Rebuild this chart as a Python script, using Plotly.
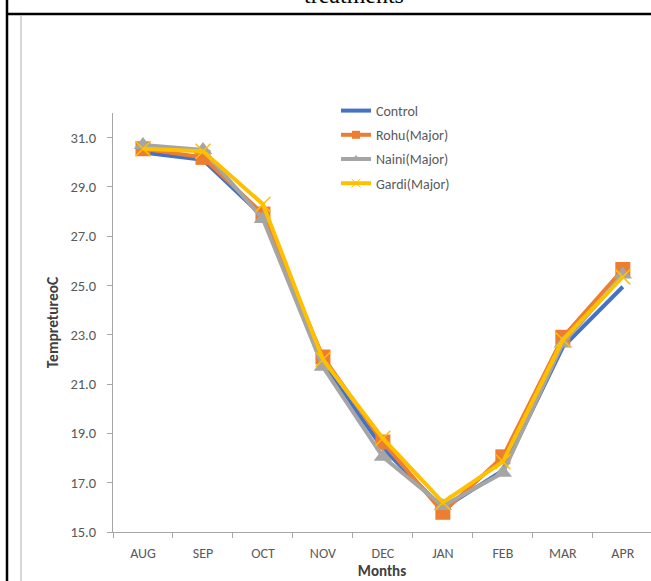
import plotly.graph_objects as go

# Monthly water temperature (°C) by treatment
months = ["AUG", "SEP", "OCT", "NOV", "DEC", "JAN", "FEB", "MAR", "APR"]
control = [30.4, 30.1, 27.8, 21.8, 18.4, 15.95, 17.5, 22.5, 24.95]
rohu = [30.55, 30.2, 27.9, 22.1, 18.65, 15.8, 18.05, 22.9, 25.65]
naini = [30.7, 30.5, 27.7, 21.7, 18.05, 16.05, 17.4, 22.65, 25.45]
gardi = [30.55, 30.45, 28.3, 22.0, 18.8, 16.2, 17.85, 22.8, 25.35]
y_ticks = [15, 17, 19, 21, 23, 25, 27, 29, 31]

W, H = 651, 581
ML, MR, MT, MB = 113, 0, 113, 49
PW, PH = W - ML - MR, H - MT - MB

FONT = "Calibri, Carlito, Lato, sans-serif"
TXT = "#595959"
AX = "#A6A6A6"


def px(xp):
    return (xp - ML) / PW


def py(yp):
    return 1 - (yp - MT) / PH


series = [
    ("Control", control, "#4472C4", None, 0),
    ("Rohu(Major)", rohu, "#ED7D31", "square", 15),
    ("Naini(Major)", naini, "#A5A5A5", "triangle-up", 16),
    ("Gardi(Major)", gardi, "#FFC000", "x-thin", 15),
]

fig = go.Figure()
for i, (name, vals, color, symbol, size) in enumerate(series):
    if symbol is None:
        marker = None
        mode = "lines"
    elif symbol == "x-thin":
        marker = dict(symbol=symbol, size=size, line=dict(color=color, width=1.5))
        mode = "lines+markers"
    else:
        marker = dict(symbol=symbol, size=size, color=color)
        mode = "lines+markers"
    fig.add_trace(go.Scatter(
        x=months, y=vals, name=name, mode=mode, showlegend=False,
        line=dict(color=color, width=4), marker=marker))

# legend entries with smaller key symbols
for i, (name, vals, color, symbol, size) in enumerate(series):
    if symbol is None:
        marker, mode = None, "lines"
    elif symbol == "x-thin":
        marker = dict(symbol=symbol, size=9, line=dict(color=color, width=1))
        mode = "lines+markers"
    else:
        marker = dict(symbol=symbol, size=8, color=color)
        mode = "lines+markers"
    fig.add_trace(go.Scatter(
        x=[None], y=[None], name=name, mode=mode, legendgroup=f"g{i}",
        line=dict(color=color, width=4), marker=marker))

# document frame around the chart
shapes = [
    dict(type="line", xref="paper", yref="paper", x0=px(7), x1=px(7),
         y0=py(0), y1=py(H), line=dict(color="black", width=2.5)),
    dict(type="line", xref="paper", yref="paper", x0=px(6), x1=px(W + 2),
         y0=py(14), y1=py(14), line=dict(color="black", width=2.5)),
    dict(type="line", xref="paper", yref="paper", x0=px(21), x1=px(21),
         y0=py(15), y1=py(H), line=dict(color="#B0B0B0", width=1)),
]

annotations = [
    dict(text="treatments", xref="paper", yref="paper",
         x=px(354), y=py(-5), xanchor="center", yanchor="middle",
         showarrow=False,
         font=dict(family="Liberation Serif, Times New Roman, serif",
                   size=24, color="black")),
]

fig.update_layout(
    width=W, height=H,
    margin=dict(l=ML, r=MR, t=MT, b=MB),
    paper_bgcolor="white", plot_bgcolor="white",
    font=dict(family=FONT, color=TXT),
    shapes=shapes, annotations=annotations,
    legend=dict(x=px(336), y=py(95), xanchor="left", yanchor="top",
                bgcolor="rgba(0,0,0,0)", font=dict(size=14, color=TXT),
                tracegroupgap=3, itemwidth=30),
    xaxis=dict(
        range=[-0.5, 8.47], showgrid=False, zeroline=False,
        showline=True, linecolor=AX, linewidth=1,
        ticks="outside", ticklen=5, tickcolor=AX, tickson="boundaries",
        tickfont=dict(size=14, color=TXT), ticklabelstandoff=8,
        title=dict(text="<b>Months</b>", standoff=4,
                   font=dict(size=15, color="#404040")),
    ),
    yaxis=dict(
        range=[15, 32], tickvals=y_ticks, tickformat=".1f",
        showgrid=False, zeroline=False,
        showline=True, linecolor=AX, linewidth=1,
        ticks="outside", ticklen=5, tickcolor=AX,
        tickfont=dict(size=14.5, color=TXT), ticklabelstandoff=8,
        title=dict(text="<b>TempretureoC</b>", standoff=7,
                   font=dict(size=15.5, color="#404040")),
    ),
)

fig.write_html("out.html")
